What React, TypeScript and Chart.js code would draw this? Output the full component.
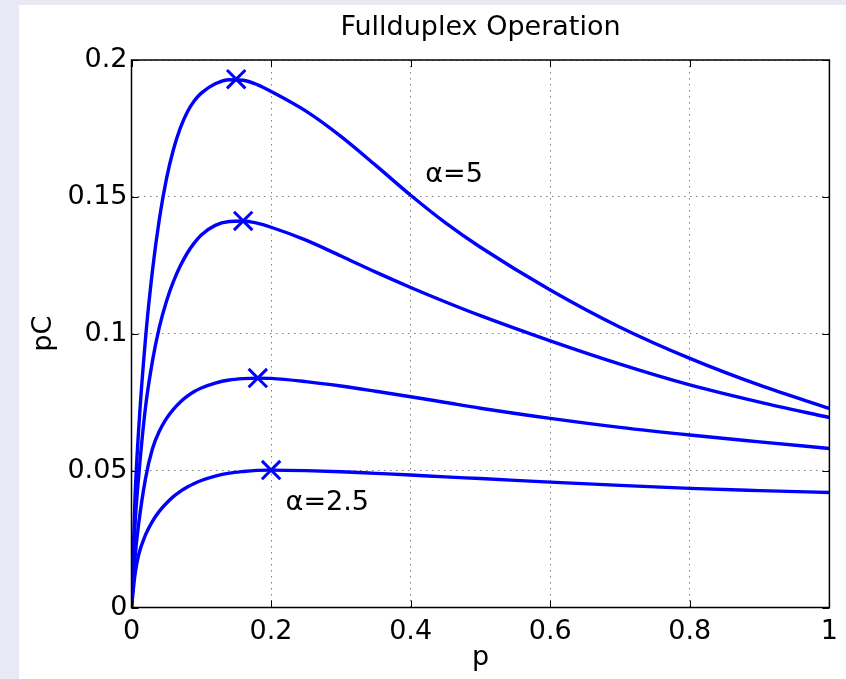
import React, { useEffect, useRef } from 'react';
import { Chart, registerables } from 'chart.js';

Chart.register(...registerables);

// ---- data ----
const pValues = [0, 0.005, 0.01, 0.02, 0.03, 0.04, 0.05, 0.06, 0.07, 0.08, 0.09, 0.1, 0.12, 0.14, 0.16, 0.18, 0.2, 0.25, 0.3, 0.35, 0.4, 0.45, 0.5, 0.6, 0.7, 0.8, 0.9, 1.0];

const curveA = [0, 0.040, 0.064, 0.098, 0.123, 0.142, 0.1565, 0.1672, 0.1752, 0.1810, 0.1851, 0.1879, 0.1913, 0.1928, 0.1926, 0.1910, 0.1885, 0.1813, 0.1721, 0.1615, 0.1506, 0.1405, 0.1316, 0.1160, 0.1024, 0.0910, 0.0812, 0.0727];
const curveB = [0, 0.030, 0.047, 0.073, 0.090, 0.1025, 0.1118, 0.1190, 0.1248, 0.1295, 0.1332, 0.1361, 0.1396, 0.1410, 0.1412, 0.1404, 0.1389, 0.1342, 0.1284, 0.1225, 0.1169, 0.1116, 0.1066, 0.0974, 0.0889, 0.0813, 0.0750, 0.0694];
const curveC = [0, 0.018, 0.030, 0.047, 0.0580, 0.0645, 0.0690, 0.0724, 0.0751, 0.0772, 0.0789, 0.0802, 0.0820, 0.0831, 0.0836, 0.0838, 0.0837, 0.0825, 0.0809, 0.0790, 0.0770, 0.0749, 0.0728, 0.0691, 0.0658, 0.0630, 0.0605, 0.0581];
const curveD = [0, 0.012, 0.019, 0.0265, 0.0315, 0.0352, 0.0381, 0.0405, 0.0424, 0.0440, 0.0453, 0.0464, 0.0480, 0.0491, 0.0497, 0.0501, 0.0502, 0.0500, 0.0496, 0.0490, 0.0484, 0.0477, 0.0471, 0.0458, 0.0446, 0.0435, 0.0427, 0.0420];

const markerP = [0.15, 0.16, 0.181, 0.2];
const markerPC = [0.193, 0.1412, 0.0838, 0.0502];

const xTickLabels = ['0', '0.2', '0.4', '0.6', '0.8', '1'];
const yTickLabels = ['0', '0.05', '0.1', '0.15', '0.2'];

const annotationText = ['α=5', 'α=2.5'];
const annotationP = [0.421, 0.2208];
const annotationPC = [0.1555, 0.0356];

const FONT = '"DejaVu Sans", "Liberation Sans", Arial, sans-serif';
const BLUE = '#0000ff';

const toPoints = (ys: number[]) => ys.map((y, i) => ({ x: pValues[i], y }));

const matlabPlugin = {
  id: 'matlabBox',
  afterDatasetsDraw(chart: any) {
    const { ctx, chartArea: a, scales } = chart;
    const xs = scales.x;
    const ys = scales.y;
    ctx.save();
    ctx.strokeStyle = '#000';
    ctx.lineWidth = 1;
    const tl = 7;
    ctx.beginPath();
    xs.ticks.forEach((t: any) => {
      const px = Math.round(xs.getPixelForValue(t.value)) + 0.5;
      ctx.moveTo(px, a.bottom);
      ctx.lineTo(px, a.bottom - tl);
      ctx.moveTo(px, a.top);
      ctx.lineTo(px, a.top + tl);
    });
    ys.ticks.forEach((t: any) => {
      const py = Math.round(ys.getPixelForValue(t.value)) + 0.5;
      ctx.moveTo(a.left, py);
      ctx.lineTo(a.left + tl, py);
      ctx.moveTo(a.right, py);
      ctx.lineTo(a.right - tl, py);
    });
    ctx.stroke();
    ctx.lineWidth = 1.5;
    ctx.strokeRect(a.left, a.top, a.right - a.left, a.bottom - a.top);

    ctx.fillStyle = '#000';
    ctx.font = '27px ' + FONT;
    ctx.textAlign = 'left';
    ctx.textBaseline = 'alphabetic';
    annotationText.forEach((txt, i) => {
      ctx.fillText(txt, xs.getPixelForValue(annotationP[i]), ys.getPixelForValue(annotationPC[i]));
    });
    ctx.restore();
  },
};

const fmt = (labels: string[], step: number) => (v: any) => {
  const idx = Math.round(Number(v) / step);
  return labels[idx] ?? '';
};

export default function App() {
  const ref = useRef<HTMLCanvasElement | null>(null);

  useEffect(() => {
    if (!ref.current) return;
    const lineDs = (label: string, ys: number[]) => ({
      type: 'line' as const,
      label,
      data: toPoints(ys),
      borderColor: BLUE,
      backgroundColor: BLUE,
      borderWidth: 3.4,
      pointRadius: 0,
      fill: false,
      cubicInterpolationMode: 'monotone' as const,
    });
    const chart = new Chart(ref.current, {
      type: 'line',
      data: {
        datasets: [
          lineDs('curve 1', curveA),
          lineDs('curve 2', curveB),
          lineDs('curve 3', curveC),
          lineDs('curve 4', curveD),
          {
            type: 'line',
            label: 'maxima',
            data: markerP.map((x, i) => ({ x, y: markerPC[i] })),
            showLine: false,
            pointStyle: 'crossRot',
            pointRadius: 13,
            pointBorderWidth: 3,
            borderColor: BLUE,
            backgroundColor: BLUE,
          } as any,
        ],
      },
      options: {
        animation: false,
        responsive: false,
        devicePixelRatio: 1,
        layout: { padding: { left: 0, right: 16, top: 0, bottom: 0 } },
        plugins: {
          legend: { display: false },
          tooltip: { enabled: false },
          title: {
            display: true,
            text: 'Fullduplex Operation',
            color: '#000',
            fullSize: false,
            font: { family: FONT, size: 27, weight: 'normal' },
            padding: { top: 7, bottom: 15.6 },
          },
        },
        scales: {
          x: {
            type: 'linear',
            min: 0,
            max: 1,
            afterFit: (s: any) => { s.height = 71.5; },
            ticks: {
              stepSize: 0.2,
              color: '#000',
              padding: 8,
              maxRotation: 0,
              font: { family: FONT, size: 27 },
              callback: fmt(xTickLabels, 0.2),
            },
            grid: { color: 'rgba(0,0,0,0.5)', lineWidth: 1, drawTicks: false },
            border: { display: false, dash: [1.5, 4.5] },
            title: {
              display: true,
              text: 'p',
              color: '#000',
              font: { family: FONT, size: 27 },
              padding: { top: 0, bottom: 5 },
            },
          },
          y: {
            type: 'linear',
            min: 0,
            max: 0.2,
            afterFit: (s: any) => { s.width = 112.5; },
            ticks: {
              stepSize: 0.05,
              color: '#000',
              padding: 4,
              font: { family: FONT, size: 27 },
              callback: fmt(yTickLabels, 0.05),
            },
            grid: { color: 'rgba(0,0,0,0.5)', lineWidth: 1, drawTicks: false },
            border: { display: false, dash: [1.5, 4.5] },
            title: {
              display: true,
              text: 'pC',
              color: '#000',
              font: { family: FONT, size: 27 },
              padding: { top: 8.3, bottom: 0 },
            },
          },
        },
      } as any,
      plugins: [matlabPlugin],
    });
    return () => chart.destroy();
  }, []);

  return (
    <div style={{ position: 'fixed', left: 0, top: 0, width: 846, height: 679, background: '#e9e9f5', overflow: 'hidden' }}>
      <div style={{ position: 'absolute', left: 19, top: 5, width: 827, height: 674, background: '#ffffff' }}>
        <canvas ref={ref} width={827} height={674} style={{ display: 'block', width: 827, height: 674 }} />
      </div>
    </div>
  );
}
